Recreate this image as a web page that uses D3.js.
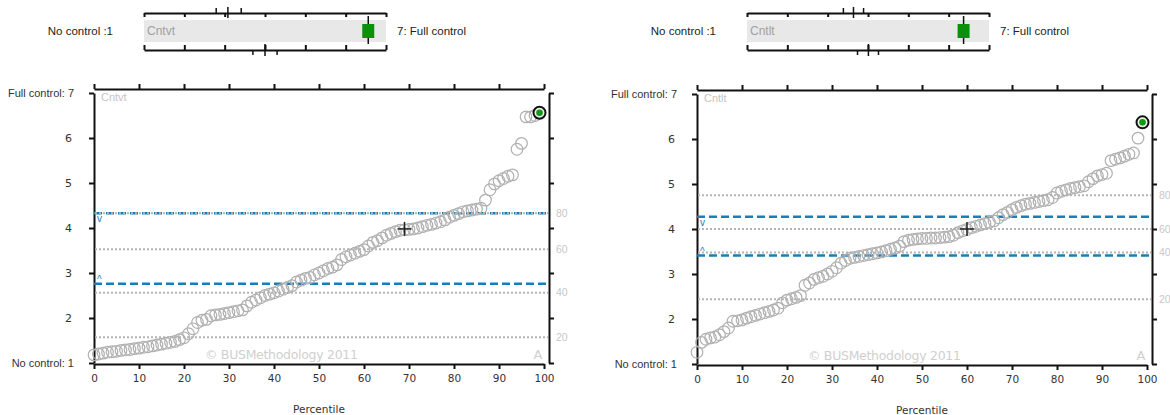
<!DOCTYPE html>
<html><head><meta charset="utf-8">
<script src="https://cdn.jsdelivr.net/npm/d3@7"></script>
<style>
body{margin:0;background:#fff;}
svg{display:block;font-family:"Liberation Sans",Arial,sans-serif;}
</style></head>
<body><svg id="c" width="1170" height="415"></svg>
<script>
// ---- data ----
const percentiles = d3.range(0, 100);
const cntvtValues = [1.18,1.20,1.22,1.24,1.25,1.26,1.28,1.29,1.30,1.32,1.33,1.35,1.36,1.38,1.40,1.42,1.44,1.46,1.48,1.52,
 1.56,1.65,1.76,1.90,1.95,1.97,2.05,2.07,2.08,2.10,2.12,2.14,2.16,2.18,2.27,2.35,2.40,2.45,2.50,2.53,
 2.56,2.60,2.64,2.68,2.72,2.80,2.84,2.88,2.90,2.96,3.00,3.05,3.10,3.13,3.18,3.30,3.36,3.40,3.44,3.48,
 3.52,3.60,3.68,3.72,3.78,3.84,3.88,3.92,3.95,3.96,3.97,3.98,4.00,4.03,4.06,4.08,4.11,4.14,4.18,4.24,
 4.28,4.32,4.36,4.38,4.40,4.42,4.44,4.62,4.85,4.98,5.05,5.10,5.15,5.18,5.75,5.88,6.47,6.47,6.50,6.56];
const cntltValues = [1.26,1.48,1.55,1.58,1.60,1.65,1.72,1.80,1.95,1.96,1.98,2.02,2.05,2.08,2.11,2.14,2.17,2.20,2.24,2.36,
 2.42,2.45,2.48,2.52,2.75,2.80,2.88,2.92,2.95,3.00,3.06,3.14,3.24,3.30,3.35,3.37,3.39,3.41,3.43,3.45,
 3.47,3.49,3.52,3.55,3.58,3.62,3.72,3.75,3.77,3.78,3.79,3.79,3.80,3.80,3.81,3.82,3.83,3.86,3.92,3.96,
 3.99,4.03,4.06,4.09,4.12,4.15,4.18,4.25,4.32,4.37,4.43,4.48,4.52,4.55,4.57,4.59,4.61,4.63,4.65,4.70,
 4.80,4.84,4.87,4.90,4.92,4.94,4.96,5.05,5.12,5.18,5.21,5.24,5.52,5.55,5.58,5.62,5.66,5.69,6.02,6.37];
const panelNames = ["Cntvt", "Cntlt"];
const percentileLevels = [20, 40, 60, 80];
const cntvtPercentileValues = [1.57, 2.56, 3.53, 4.33];
const cntltPercentileValues = [2.44, 3.48, 4.00, 4.75];
const cntvtBands = [2.76, 4.33];   // lower "^", upper "v"
const cntltBands = [3.41, 4.27];
const cntvtCross = [69, 3.98];
const cntltCross = [60, 4.00];
const cntvtTopTicks = [2.79, 3.08, 3.41];
const cntvtBottomTicks = [3.70, 4.00, 4.30];
const cntltTopTicks = [3.39, 3.64, 3.89];
const cntltBottomTicks = [3.74, 4.01, 4.26];
const xTicks = d3.range(0, 101, 10);
const yTicks = [1,2,3,4,5,6,7];

const svg = d3.select("#c");
const BLUE = "#1b7db6";

function panel(dx, dy, name, values, pVals, bands, cross, topT, botT) {
  const L = 94 + dx, R = 544 + dx, T = 93 + dy, B = 363 + dy;
  const x = d3.scaleLinear().domain([0, 100]).range([L, R]);
  const y = d3.scaleLinear().domain([1, 7]).range([B, T]);
  const g = svg.append("g");

  // axes
  const styleAxis = (sel) => {
    sel.select(".domain").attr("stroke", "#111").attr("stroke-width", 2);
    sel.selectAll(".tick line").attr("stroke", "#111").attr("stroke-width", 2);
    sel.selectAll("text").attr("fill", "#333").style("font-size", "11px");
  };
  g.append("g").attr("transform", `translate(0,${B+1})`)
    .call(d3.axisBottom(x).tickValues(xTicks).tickSize(5).tickSizeOuter(0).tickPadding(6))
    .call(styleAxis).call(s => s.selectAll("text").style("font-family", "'DejaVu Sans',sans-serif").style("font-size","10.5px"));
  g.append("g").attr("transform", `translate(0,${T-4})`)
    .call(d3.axisTop(x).tickValues(xTicks).tickSize(5).tickSizeOuter(0).tickFormat(""))
    .call(styleAxis);
  g.append("g").attr("transform", `translate(${L},0)`)
    .call(d3.axisLeft(y).tickValues(yTicks).tickSize(5).tickSizeOuter(0).tickPadding(15)
      .tickFormat(v => v === 7 ? "Full control: 7" : v === 1 ? "No control: 1" : v))
    .call(styleAxis)
    .call(s => s.selectAll("text").filter(v => v !== 1 && v !== 7).style("font-family", "'DejaVu Sans',sans-serif").attr("dx", -2));
  g.append("g").attr("transform", `translate(${R+5},0)`)
    .call(d3.axisRight(y).tickValues(yTicks).tickSize(5).tickSizeOuter(0).tickFormat(""))
    .call(styleAxis);

  // right percentile labels
  g.selectAll(".plab").data(percentileLevels).join("text")
    .attr("x", R + 12).attr("y", (d, i) => y(pVals[i])).attr("dy", "0.35em")
    .attr("fill", "#c8c8c8").style("font-size", "10.5px").text(d => d);

  // blue band lines
  g.selectAll(".band").data(bands).join("line")
    .attr("x1", L).attr("x2", R + 4).attr("y1", d => y(d)).attr("y2", d => y(d))
    .attr("stroke", BLUE).attr("stroke-width", 2.5).attr("stroke-dasharray", "8,4");
  // gray percentile lines
  g.selectAll(".pline").data(pVals).join("line")
    .attr("x1", L + 1).attr("x2", R + 4).attr("y1", d => y(d)).attr("y2", d => y(d))
    .attr("stroke", "#b4b4b4").attr("stroke-width", 2).attr("stroke-dasharray", "2,2");
  g.append("text").attr("x", L + 3).attr("y", y(bands[1]) + 9).attr("fill", BLUE)
    .style("font-size", "10px").text("v");
  g.append("text").attr("x", L + 3).attr("y", y(bands[0]) - 1).attr("fill", BLUE)
    .style("font-size", "10px").text("^");

  // texts
  g.append("text").attr("x", L + 7).attr("y", T + 8).attr("fill", "#c4c4c4")
    .style("font-size", "11px").text(name);
  g.append("text").attr("x", L + 111).attr("y", B - 4).attr("fill", "#cfcfcf")
    .style("font-size", "12.5px").style("font-family","'DejaVu Sans',sans-serif").style("letter-spacing","-0.3px").text("© BUSMethodology 2011");
  g.append("text").attr("x", R - 6).attr("y", B - 4).attr("text-anchor", "middle").attr("fill", "#cfcfcf")
    .style("font-size", "13px").style("font-family","'DejaVu Sans',sans-serif").text("A");
  g.append("text").attr("x", (L + R) / 2).attr("y", B + 50).attr("text-anchor", "middle").attr("fill", "#333")
    .style("font-size", "10.5px").style("font-family","'DejaVu Sans',sans-serif").text("Percentile");

  // points
  const last = values.length - 1;
  g.selectAll(".pt").data(values.slice(0, last)).join("circle")
    .attr("cx", (d, i) => x(percentiles[i])).attr("cy", d => y(d)).attr("r", 5.8)
    .attr("fill", "none").attr("stroke", "#b0b0b0").attr("stroke-width", 1.2);
  g.append("circle").attr("cx", x(percentiles[last])).attr("cy", y(values[last])).attr("r", 6)
    .attr("fill", "#eee").attr("stroke", "#111").attr("stroke-width", 2);
  g.append("circle").attr("cx", x(percentiles[last])).attr("cy", y(values[last])).attr("r", 3.3)
    .attr("fill", "#119a11");

  // crosshair
  const cx = x(cross[0]), cy = y(cross[1]);
  g.append("line").attr("x1", cx - 7).attr("x2", cx + 7).attr("y1", cy).attr("y2", cy).attr("stroke", "#222").attr("stroke-width", 1.5);
  g.append("line").attr("x1", cx).attr("x2", cx).attr("y1", cy - 7).attr("y2", cy + 7).attr("stroke", "#222").attr("stroke-width", 1.5);

  // ---- top widget ----
  const wL = 145 + dx - 1, wR = 387 + dx - 1;
  const w = d3.scaleLinear().domain([1, 7]).range([wL, wR]);
  const wg = svg.append("g");
  wg.append("rect").attr("x", wL).attr("y", 20).attr("width", wR - wL).attr("height", 22).attr("fill", "#e8e8e8");
  wg.append("g").attr("transform", "translate(0,13)")
    .call(d3.axisBottom(w).tickValues(yTicks).tickSize(4).tickSizeOuter(0).tickFormat(""))
    .call(styleAxis);
  wg.append("g").attr("transform", "translate(0,50)")
    .call(d3.axisTop(w).tickValues(yTicks).tickSize(5).tickSizeOuter(0).tickFormat(""))
    .call(styleAxis);
  wg.selectAll(".tt").data(topT).join("line")
    .attr("x1", d => w(d)).attr("x2", d => w(d)).attr("y1", (d, i) => i === 1 ? 7 : 8).attr("y2", (d, i) => i === 1 ? 18 : 13)
    .attr("stroke", "#111").attr("stroke-width", 1.5);
  wg.selectAll(".bt").data(botT).join("line")
    .attr("x1", d => w(d)).attr("x2", d => w(d)).attr("y1", (d, i) => i === 1 ? 44 : 50).attr("y2", (d, i) => i === 1 ? 56 : 55)
    .attr("stroke", "#111").attr("stroke-width", 1.5);
  const gv = values[last];
  wg.append("line").attr("x1", w(gv)).attr("x2", w(gv)).attr("y1", 16).attr("y2", 44).attr("stroke", "#111").attr("stroke-width", 1.5);
  wg.append("rect").attr("x", w(gv) - 6).attr("y", 24).attr("width", 12).attr("height", 14).attr("fill", "#0a900a");
  wg.append("text").attr("x", wL + 3).attr("y", 35).attr("fill", "#a0a0a0").style("font-size", "12px").text(name);
  wg.append("text").attr("x", wL - 31).attr("y", 35).attr("text-anchor", "end").attr("fill", "#222").style("font-size", "11.5px").text("No control :1");
  wg.append("text").attr("x", wR + 11).attr("y", 35).attr("fill", "#222").style("font-size", "11.5px").text("7: Full control");
}

panel(0, 0, panelNames[0], cntvtValues, cntvtPercentileValues, cntvtBands, cntvtCross, cntvtTopTicks, cntvtBottomTicks);
panel(603, 1, panelNames[1], cntltValues, cntltPercentileValues, cntltBands, cntltCross, cntltTopTicks, cntltBottomTicks);
</script></body></html>
